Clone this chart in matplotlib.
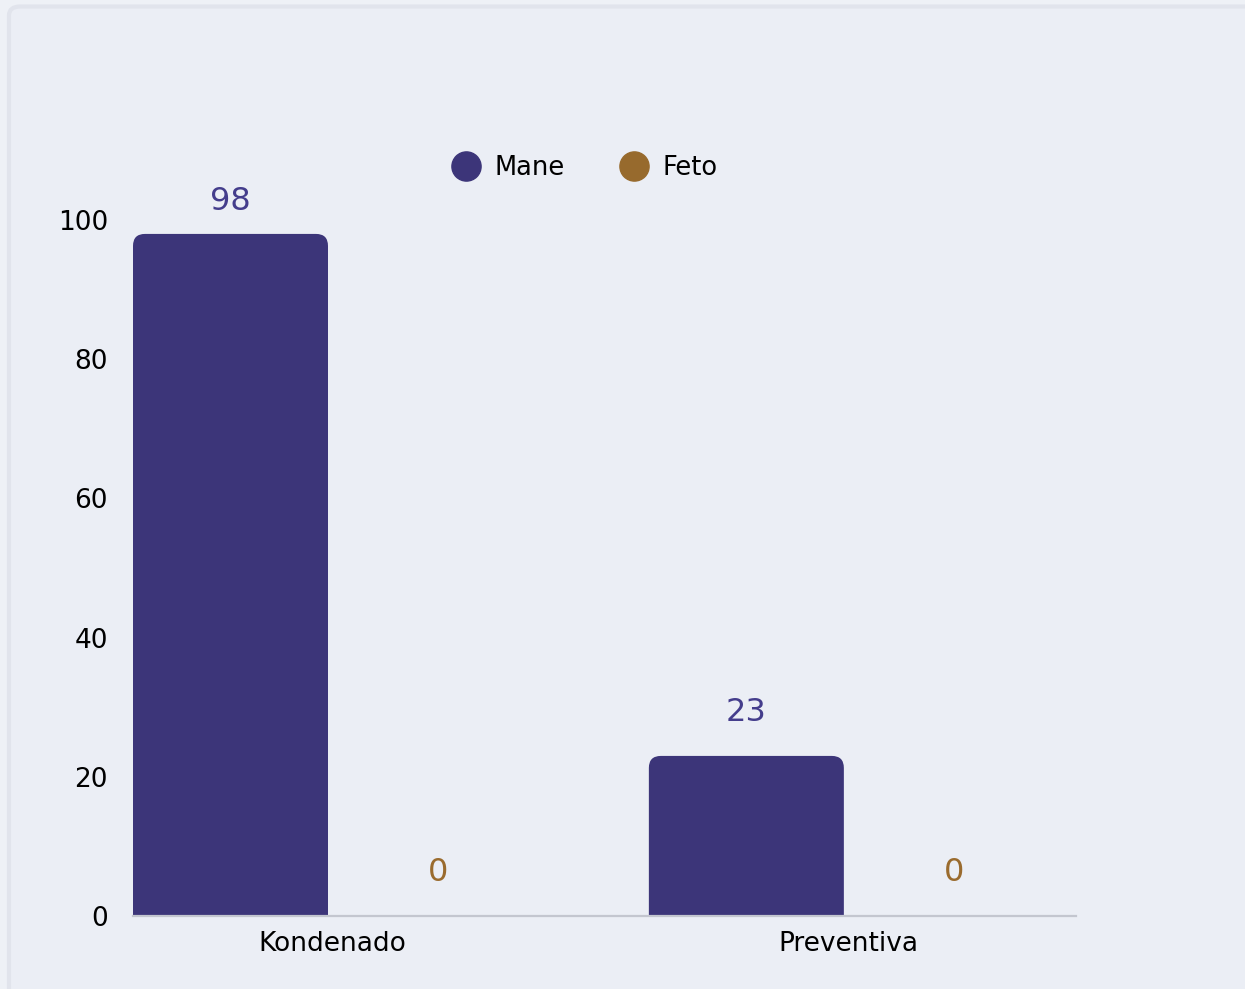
import matplotlib
matplotlib.use("Agg")
import numpy as np
import matplotlib.pyplot as plt
from matplotlib.patches import FancyBboxPatch, PathPatch
from matplotlib.path import Path
from matplotlib.lines import Line2D

categories = ["Kondenado", "Preventiva"]
series_names = ["Mane", "Feto"]
mane = [98, 23]
feto = [0, 0]
yticks = [0, 20, 40, 60, 80, 100]

c_mane = "#3c3579"
c_feto = "#976a2d"
c_mane_txt = "#443d8c"
c_feto_txt = "#9a6b2e"

W, H = 1245, 989
fig = plt.figure(figsize=(W / 100, H / 100), dpi=100)
fig.patch.set_facecolor("#eef1f6")

# panel behind the chart
panel = FancyBboxPatch((9 / W, -0.05), 1.2, 1 - 6.5 / H + 0.05,
                       boxstyle="round,pad=0,rounding_size=0.009",
                       transform=fig.transFigure, facecolor="#ebeef5",
                       edgecolor="#e1e4ec", linewidth=3, zorder=-10)
fig.patches.append(panel)

ax = fig.add_axes([133 / W, 73 / H, 943 / W, 696 / H])
ax.set_zorder(1)
ax.set_facecolor("none")
ax.set_xlim(-0.386, 1.442)
ax.set_ylim(0, 100)

x = np.arange(len(categories))
bw = 0.378
offs = [-0.197, 0.205]

# px -> data units
px_x = 1.828 / 943
px_y = 100 / 696
rx, ry = 12 * px_x, 12 * px_y


def top_rounded(x0, w, h):
    x1 = x0 + w
    verts = [(x0, 0), (x0, h - ry), (x0, h), (x0 + rx, h), (x1 - rx, h),
             (x1, h), (x1, h - ry), (x1, 0), (x0, 0)]
    codes = [Path.MOVETO, Path.LINETO, Path.CURVE3, Path.CURVE3, Path.LINETO,
             Path.CURVE3, Path.CURVE3, Path.LINETO, Path.CLOSEPOLY]
    return Path(verts, codes)


for vals, off, col, tcol in [(mane, offs[0], c_mane, c_mane_txt),
                             (feto, offs[1], c_feto, c_feto_txt)]:
    bars = ax.bar(x + off, vals, width=bw, color=col)
    for b in bars:
        b.set_visible(False)
        bx, bwid, bh = b.get_x(), b.get_width(), b.get_height()
        if bh > 0:
            ax.add_patch(PathPatch(top_rounded(bx, bwid, bh), facecolor=col,
                                   edgecolor="none", zorder=2))
        ty = min(bh + 6.3, 100 + 19 * px_y)
        ax.text(bx + bwid / 2, ty, f"{int(bh)}", ha="center", va="center",
                color=tcol, fontsize=23, clip_on=False)

ax.set_xticks(x, categories)
ax.set_yticks(yticks)
ax.tick_params(axis="both", length=0, labelsize=19, colors="black")
ax.tick_params(axis="y", pad=18)
ax.tick_params(axis="x", pad=11)
for s in ["top", "right", "left"]:
    ax.spines[s].set_visible(False)
ax.spines["bottom"].set_color("#c3c6cf")
ax.spines["bottom"].set_linewidth(1.6)

handles = [Line2D([], [], linestyle="none", marker="o", markersize=21,
                  markerfacecolor=c, markeredgecolor=c)
           for c in [c_mane, c_feto]]
fig.legend(handles, series_names, loc="center", bbox_to_anchor=(584 / W, 1 - 168 / H),
           ncol=2, frameon=False, fontsize=18.5, handlelength=1.2,
           handletextpad=0.5, columnspacing=2.1)

fig.savefig("out.png", dpi=100, facecolor=fig.get_facecolor())
